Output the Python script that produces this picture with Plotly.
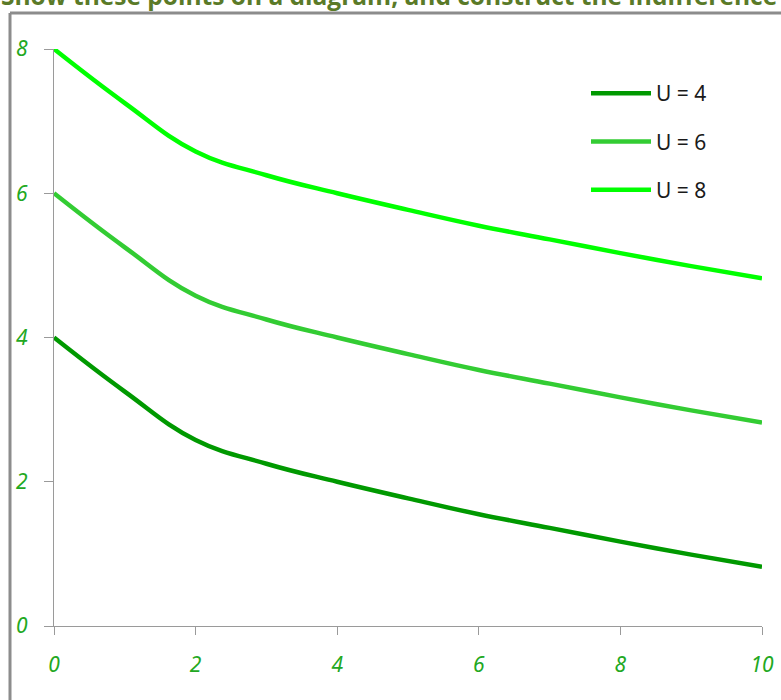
import plotly.graph_objects as go

# ---- data ----
x_vals = [0, 1, 2, 3, 4, 5, 6, 7, 8, 9, 10]
u4 = [4.0, 3.25, 2.58, 2.25, 2.0, 1.77, 1.55, 1.36, 1.17, 0.99, 0.82]
u6 = [6.0, 5.25, 4.58, 4.25, 4.0, 3.77, 3.55, 3.36, 3.17, 2.99, 2.82]
u8 = [8.0, 7.25, 6.58, 6.25, 6.0, 5.77, 5.55, 5.36, 5.17, 4.99, 4.82]
series_names = ["U = 4", "U = 6", "U = 8"]
series_colors = ["#009900", "#33cc33", "#00ff00"]
x_ticks = [0, 2, 4, 6, 8, 10]
y_ticks = [0, 2, 4, 6, 8]
title_text = "Show these points on a diagram, and construct the indifference curves"

W, H = 781, 700
ML, MR, MT, MB = 54, 19, 49, 74
PW, PH = W - ML - MR, H - MT - MB

def px_x(p):
    return (p - ML) / PW

def px_y(p):
    return 1 - (p - MT) / PH

fig = go.Figure()
for name, ys, col in zip(series_names, [u4, u6, u8], series_colors):
    fig.add_trace(go.Scatter(
        x=x_vals, y=ys, name=name, mode="lines",
        line=dict(color=col, width=4.5, shape="spline", smoothing=1.2),
        cliponaxis=False, legendgroup=name,
    ))

tick_font = dict(family="Noto Sans", size=21, color="#22a822", style="italic")
fig.update_xaxes(range=[0, 10], tickvals=x_ticks, showgrid=False, zeroline=False,
                 showline=True, linecolor="#9a9a9a", linewidth=1.3, automargin=False,
                 ticks="outside", ticklen=8, tickcolor="#9a9a9a", tickwidth=1.3,
                 tickfont=tick_font, ticklabelstandoff=12)
fig.update_yaxes(range=[0, 8], tickvals=y_ticks, showgrid=False, zeroline=False,
                 showline=True, linecolor="#9a9a9a", linewidth=1.3, automargin=False,
                 ticks="outside", ticklen=9, tickcolor="#9a9a9a", tickwidth=1.3,
                 tickfont=tick_font, ticklabelstandoff=12)

fig.update_layout(
    width=W, height=H,
    margin=dict(l=ML, r=MR, t=MT, b=MB, autoexpand=False),
    paper_bgcolor="white", plot_bgcolor="white",
    showlegend=True,
    legend=dict(x=px_x(586), y=px_y(73), xanchor="left", yanchor="top",
                font=dict(family="Noto Sans", size=21, color="#1a1a1a"),
                bgcolor="rgba(0,0,0,0)", tracegroupgap=18, itemwidth=60,
                traceorder="grouped"),
    shapes=[
        dict(type="line", xref="paper", yref="paper",
             x0=px_x(10), x1=px_x(W + 5), y0=px_y(13), y1=px_y(13),
             line=dict(color="#8c8c8c", width=3)),
        dict(type="line", xref="paper", yref="paper",
             x0=px_x(10), x1=px_x(10), y0=px_y(13), y1=px_y(H + 5),
             line=dict(color="#8c8c8c", width=3)),
    ],
    annotations=[
        dict(text="<b>" + title_text + "</b>", xref="paper", yref="paper",
             x=px_x(-1), y=px_y(14), xanchor="left", yanchor="bottom",
             showarrow=False, font=dict(family="Open Sans", size=24.5, color="#5a7a28")),
    ],
)

fig.write_html("out.html")
